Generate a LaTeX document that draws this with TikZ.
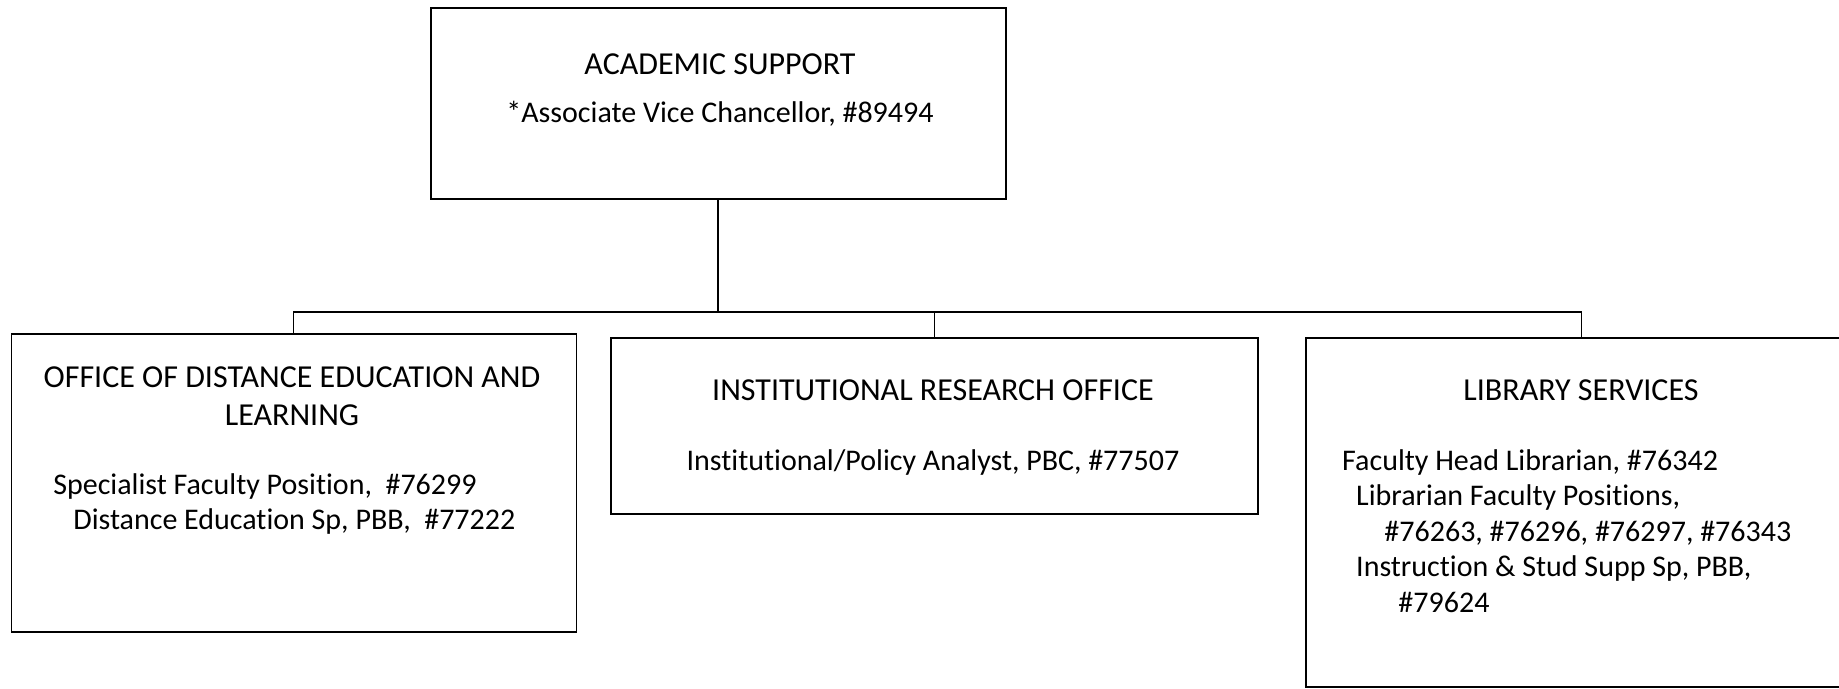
\documentclass[tikz,border=0pt]{standalone}
\usepackage{fontspec}
\setmainfont{Carlito}[Ligatures=NoCommon]
\usetikzlibrary{positioning}

\begin{document}
\begin{tikzpicture}[x=0.4pt, y=-0.4pt,
  unit/.style={draw, line width=0.6pt, inner sep=0pt, anchor=north west},
  txt/.style={inner sep=0pt, font=\fontsize{12}{14.2}\selectfont},
  head/.style={inner sep=0pt, font=\fontsize{12.8}{15}\selectfont},
  link/.style={line width=0.5pt}]
  \useasboundingbox (0,0) rectangle (1839,688);
  % boxes
  \node[unit, minimum width=230pt, minimum height=76.4pt] (acad) at (430,7) {};
  \node[unit, minimum width=226pt, minimum height=119.2pt] (odel) at (10.5,333) {};
  \node[unit, minimum width=258.8pt, minimum height=70.4pt] (iro) at (610,337) {};
  \node[unit, minimum width=220.8pt, minimum height=139.6pt] (lib) at (1305,337) {};
  % texts
  \node[head] (acadT) at (720,64.5) {ACADEMIC SUPPORT};
  \node[txt] (acadP) at (720,113.8) {*Associate Vice Chancellor, \#89494};
  \node[head, align=center] (odelT) at (292,396) {OFFICE OF DISTANCE EDUCATION AND\\LEARNING};
  \node[txt, align=left, anchor=west] (odelP) at (52.8,504) {Specialist Faculty Position,~ \#76299\\
    \hspace*{8pt}Distance Education Sp, PBB,~ \#77222};
  \node[head] (iroT) at (933,390.5) {INSTITUTIONAL RESEARCH OFFICE};
  \node[txt] (iroP) at (933,462) {Institutional/Policy Analyst, PBC, \#77507};
  \node[head] (libT) at (1581,390.5) {LIBRARY SERVICES};
  \node[txt, align=left, anchor=west] (libP) at (1341.7,531) {Faculty Head Librarian, \#76342\\
    \hspace*{5.6pt}Librarian Faculty Positions,\\
    \hspace*{16.9pt}\#76263, \#76296, \#76297, \#76343\\
    \hspace*{5.6pt}Instruction \& Stud Supp Sp, PBB,\\
    \hspace*{22.5pt}\#79624};
  % connectors
  \coordinate (bus) at (0,312);
  \draw[link, line width=0.8pt] (acad.south) -- (acad.south |- bus);
  \draw[link] (odel.north) -- (odel.north |- bus) -| (lib.north);
  \draw[link] (iro.north) -- (iro.north |- bus);
\end{tikzpicture}
\end{document}
